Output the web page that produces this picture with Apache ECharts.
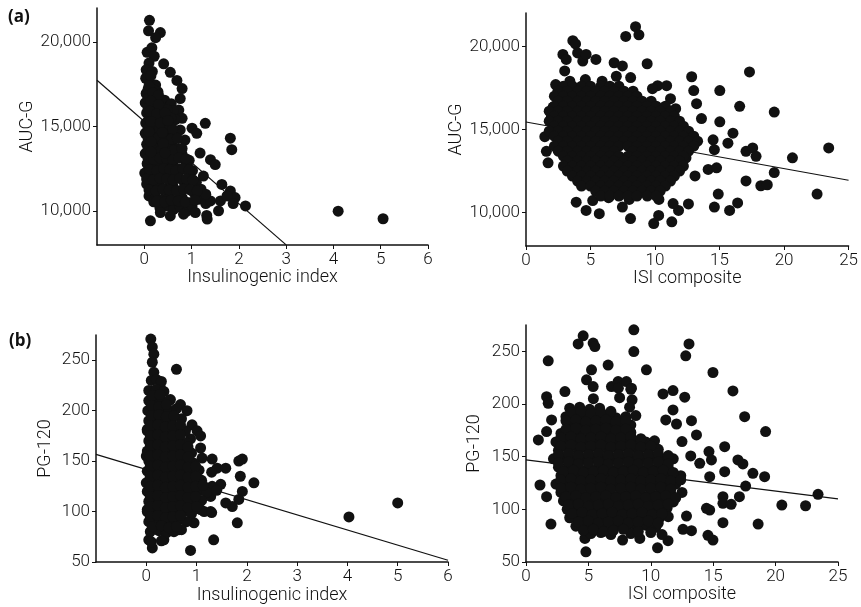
<!DOCTYPE html>
<html>
<head>
<meta charset="utf-8">
<script src="https://cdn.jsdelivr.net/npm/echarts@6/dist/echarts.min.js"></script>
<style>
html, body { margin: 0; padding: 0; background: #fff; }
#container { width: 861px; height: 607px; }
</style>
</head>
<body>
<div id="container"></div>
<script>
// panel (a) left: insulinogenic index vs AUC-G
var insAuc = [
  [0.11,21270],[0.09,20650],[0.34,20550],[0.24,20250],[0.06,19380],[0.16,19650],[0.21,19150],[0.1,18750],[0.04,18350],[0.17,18250],
  [0.41,18700],[0.55,18200],[0.69,17720],[0.8,17240],[0.76,16650],[0.73,15970],[0.8,15480],
  [0.03,17850],[0.12,17550],[0.24,17450],[0.04,16950],[0.15,16850],[0.29,17050],[0.43,16550],[0.02,16400],[0.13,16300],[0.27,16450],[0.4,16150],[0.57,16350],
  [0.05,15800],[0.18,15650],[0.33,15900],[0.49,15600],[0.61,15950],[0.03,15200],[0.15,15100],[0.28,15300],[0.42,15000],[0.55,15250],[0.66,15400],
  [0.02,14600],[0.12,14450],[0.24,14700],[0.37,14400],[0.51,14600],[0.63,14300],[0.76,14800],[0.05,13950],[0.18,13850],[0.31,14100],[0.45,13800],[0.58,14050],[0.72,13700],[0.86,14200],
  [0.02,13400],[0.14,13300],[0.27,13500],[0.4,13200],[0.53,13400],[0.66,13100],[0.8,13350],[0.95,13000],
  [0.06,12800],[0.2,12700],[0.34,12900],[0.47,12600],[0.6,12800],[0.74,12500],[0.88,12750],[1.02,12400],
  [0.01,12250],[0.12,12100],[0.26,11950],[0.4,12200],[0.54,11900],[0.68,12100],[0.82,11800],[0.96,12050],[1.1,11700],
  [0.05,11600],[0.18,11400],[0.32,11500],[0.46,11300],[0.6,11550],[0.75,11200],[0.9,11400],[1.05,11100],[1.2,11300],
  [0.1,10900],[0.24,10800],[0.38,10700],[0.52,10900],[0.66,10600],[0.8,10800],[0.95,10500],[1.15,10700],[1.3,10450],
  [0.2,10550],[0.33,10200],[0.48,10300],[0.62,10100],[0.76,10250],[0.9,10000],[1.01,10300],
  [0.34,9920],[0.55,9720],[0.83,9820],[1.08,9920],[1.33,9530],[0.13,9430],[1.32,9750],
  [1.29,15190],[1.01,14900],[1.11,14600],[1.82,14310],[1.85,13630],[1.18,13430],[1.4,13040],[1.5,12750],[1.25,12070],
  [1.64,11580],[1.82,11190],[1.92,10800],[2.14,10310],[1.61,10600],[1.57,10020],[1.75,10900],[1.4,10600],[1.3,11000],[1.88,10450],
  [4.1,10000],[5.05,9550],
  [0.08,17200],[0.2,17150],[0.08,16650],[0.21,16700],[0.35,16600],[0.08,16100],[0.22,16050],[0.34,16150],[0.48,16000],
  [0.1,15500],[0.24,15450],[0.4,15550],[0.56,15500],[0.08,14900],[0.2,14950],[0.32,14850],[0.48,14900],[0.6,14850],
  [0.08,14300],[0.2,14250],[0.3,14350],[0.44,14300],[0.57,14250],[0.7,14300],
  [0.08,13650],[0.22,13700],[0.35,13600],[0.5,13650],[0.62,13600],[0.8,13700],
  [0.08,13100],[0.2,13050],[0.33,13150],[0.47,13100],[0.6,13050],[0.73,13150],[0.88,13100],
  [0.12,12450],[0.27,12400],[0.41,12500],[0.54,12450],[0.67,12400],[0.82,12500],[0.95,12450],
  [0.05,11900],[0.19,11850],[0.33,11950],[0.47,11900],[0.61,11850],[0.75,11950],[0.89,11900],[1.03,11850],
  [0.1,11250],[0.25,11200],[0.39,11300],[0.53,11250],[0.68,11200],[0.83,11300],[0.97,11250],[1.12,11200],
  [0.27,10600],[0.43,10550],[0.57,10650],[0.72,10600],[0.87,10550],[1.07,10650],
  [0.14,18000],[0.1,17400],[0.18,17000],[0.3,16850],[0.14,16500],[0.3,16300],[0.12,15900],[0.26,15750],[0.44,15800],
  [0.14,15300],[0.34,15200],[0.5,15350],[0.1,14700],[0.38,14650],[0.14,14100],[0.4,14000],[0.14,13500],[0.44,13450]
];
// panel (a) right: ISI composite vs AUC-G, scattered points
var isiAuc = [
  [8.49,21180],[8.75,20690],[7.73,20590],[3.63,20340],[3.84,20140],[2.86,19510],[3.12,19210],[4.0,19600],[4.4,19110],[4.66,19510],
  [5.42,19210],[3.0,18520],[6.83,19010],[7.47,18820],[9.39,18950],[8.11,18120],[12.84,18170],[17.32,18460],[10.2,17630],[10.9,17630],
  [13.0,17340],[15.02,17340],[16.56,16390],[19.24,16050],[15.02,15460],[13.22,16550],[13.6,15660],[16.04,14780],[15.65,14180],[14.5,14380],
  [14.6,13790],[17.05,13690],[17.57,13890],[17.83,13390],[20.65,13300],[23.46,13890],[19.24,12410],[17.05,11910],[18.2,11620],[18.7,11680],
  [22.56,11120],[14.9,11120],[14.6,10340],[16.4,10590],[15.78,10140],[14.12,12600],[14.77,12700],[13.1,12210],[11.3,9450],[9.9,9350],
  [10.28,9840],[8.1,9650],[5.68,9940],[4.66,10140],[3.89,10630],[5.17,10730],[7.47,10340],[11.82,10140],[12.59,10530],[8.49,11220],
  [1.71,13000],[1.46,14570],[1.58,13690],[1.97,15760],[2.1,16350],[2.48,17340],[9.8,17450],[11.2,16850],[11.6,16250],
  [12.6,14650],[13.0,14050],[12.4,13300],[11.4,10550],[10.3,10800],[6.4,10900],[8.0,10800],[2.3,17700],[3.4,17900],[4.6,18000],[5.9,17900],[7.0,18200]
];
// panel (a) right: dense core, one row per AUC-G value followed by its ISI values
var isiAucCore = [
  [17600, 2.9,3.6,4.3,5.0,5.8,6.5,7.2],
  [17300, 2.5,3.2,4.0,4.7,5.4,6.1,6.8,7.6,8.3],
  [17000, 2.2,2.9,3.6,4.3,5.0,5.8,6.5,7.2,7.9,8.6],
  [16700, 2.5,3.2,4.0,4.7,5.4,6.1,6.8,7.6,8.3,9.0,9.7],
  [16400, 2.2,2.9,3.6,4.3,5.0,5.8,6.5,7.2,7.9,8.6,9.4,10.1,10.8],
  [16100, 1.8,2.5,3.2,4.0,4.7,5.4,6.1,6.8,7.6,8.3,9.0,9.7,10.4,11.2],
  [15800, 2.2,2.9,3.6,4.3,5.0,5.8,6.5,7.2,7.9,8.6,9.4,10.1,10.8,11.5],
  [15500, 1.8,2.5,3.2,4.0,4.7,5.4,6.1,6.8,7.6,8.3,9.0,9.7,10.4,11.2,11.9],
  [15200, 2.2,2.9,3.6,4.3,5.0,5.8,6.5,7.2,7.9,8.6,9.4,10.1,10.8,11.5,12.2],
  [14900, 1.8,2.5,3.2,4.0,4.7,5.4,6.1,6.8,7.6,8.3,9.0,9.7,10.4,11.2,11.9,12.6],
  [14600, 2.2,2.9,3.6,4.3,5.0,5.8,6.5,7.2,7.9,8.6,9.4,10.1,10.8,11.5,12.2,13.0],
  [14300, 2.5,3.2,4.0,4.7,5.4,6.1,6.8,7.6,8.3,9.0,9.7,10.4,11.2,11.9,12.6,13.3],
  [14000, 2.2,2.9,3.6,4.3,5.0,5.8,6.5,7.2,7.9,8.6,9.4,10.1,10.8,11.5,12.2,13.0],
  [13700, 2.5,3.2,4.0,4.7,5.4,6.1,6.8,8.3,9.0,9.7,10.4,11.2,11.9,12.6],
  [13400, 2.9,3.6,4.3,5.0,5.8,6.5,7.2,7.9,8.6,9.4,10.1,10.8,11.5,12.2],
  [13100, 3.2,4.0,4.7,5.4,6.1,6.8,7.6,8.3,9.0,9.7,10.4,11.2,11.9],
  [12800, 2.9,3.6,4.3,5.0,5.8,6.5,7.2,7.9,8.6,9.4,10.1,10.8,11.5,12.2],
  [12500, 3.2,4.0,4.7,5.4,6.1,6.8,7.6,8.3,9.0,9.7,10.4,11.2,11.9],
  [12200, 3.6,4.3,5.0,5.8,6.5,7.2,7.9,8.6,9.4,10.1,10.8,11.5],
  [11900, 4.0,4.7,5.4,6.1,6.8,7.6,8.3,9.0,9.7,10.4,11.2],
  [11600, 4.3,5.0,5.8,6.5,7.2,7.9,8.6,9.4,10.1,10.8],
  [11300, 5.4,6.1,6.8,7.6,8.3,9.0,9.7,10.4],
  [11000, 5.8,6.5,7.2,7.9,8.6,9.4,10.1]
];
// panel (b) left: insulinogenic index vs PG-120
var insPg = [
  [0.09,271],[0.12,263],[0.15,256],[0.12,248],[0.15,238],[0.6,241],[0.28,223],[0.48,211],[0.68,206],[0.81,200],
  [0.91,186],[1.01,180],[1.08,175],[0.88,172],[1.08,163],[1.11,153],[1.31,152],[1.41,143],[1.58,143],[1.84,150],
  [1.91,152],[1.87,135],[2.14,128.5],[1.91,120],[1.84,112],[1.71,105],[1.58,108.6],[1.48,127],[1.31,125],[1.28,115],
  [1.81,88.8],[1.34,72],[0.88,61.5],[0.05,72],[0.12,64],[0.35,72],[0.65,82],[0.95,88.8],[1.28,100],[1.08,102],
  [0.02,181.5],[0.0,155],[0.0,128.5],[0.02,102],[4.03,94.7],[5.0,108.6],
  [0.1,230],[0.2,231],[0.3,229],
  [0.05,220],[0.2,221],[0.35,219],
  [0.05,210],[0.18,211],[0.32,209],[0.45,210],
  [0.03,200],[0.15,201],[0.3,199],[0.45,200],[0.6,202],
  [0.05,190],[0.2,191],[0.35,189],[0.5,190],[0.7,192],
  [0.02,180],[0.15,181],[0.3,179],[0.45,180],[0.6,182],[0.78,180],
  [0.05,170],[0.2,171],[0.35,169],[0.5,170],[0.65,172],[0.8,168],
  [0.02,160],[0.15,161],[0.3,159],[0.45,160],[0.6,162],[0.75,160],[0.9,158],
  [0.05,150],[0.2,151],[0.35,149],[0.5,150],[0.65,152],[0.8,150],[0.95,148],
  [0.02,140],[0.15,141],[0.3,139],[0.45,140],[0.6,142],[0.75,140],[0.9,138],[1.05,141],[1.3,139],
  [0.05,130],[0.2,131],[0.35,129],[0.5,130],[0.65,132],[0.8,130],[0.95,128],[1.1,131],
  [0.02,120],[0.15,121],[0.3,119],[0.45,120],[0.6,122],[0.75,120],[0.9,118],[1.05,121],[1.2,119],[1.4,121],
  [0.05,110],[0.2,111],[0.35,109],[0.5,110],[0.65,112],[0.8,110],[0.95,108],[1.1,111],
  [0.02,100],[0.15,101],[0.3,99],[0.45,100],[0.6,102],[0.75,100],[0.9,98],[1.15,100],[1.3,99],
  [0.05,90],[0.2,91],[0.35,89],[0.5,90],[0.65,92],[0.8,90],
  [0.08,80],[0.25,81],[0.4,79],[0.55,80],[0.7,82],
  [0.1,70],[0.3,71],
  [0.12,215],[0.27,216],[0.1,205],[0.25,204],[0.4,206],[0.1,195],[0.25,196],[0.4,194],[0.55,195],
  [0.08,185],[0.23,186],[0.38,184],[0.53,185],[0.68,186],[0.08,175],[0.23,176],[0.38,174],[0.53,175],[0.68,176],
  [0.08,165],[0.23,166],[0.38,164],[0.53,165],[0.68,166],[0.83,164],[0.08,155],[0.23,156],[0.38,154],[0.53,155],[0.68,156],[0.83,154],
  [0.08,145],[0.23,146],[0.38,144],[0.53,145],[0.68,146],[0.83,144],[0.98,145],[0.08,135],[0.23,136],[0.38,134],[0.53,135],[0.68,136],[0.83,134],[0.98,135],
  [0.08,125],[0.23,126],[0.38,124],[0.53,125],[0.68,126],[0.83,124],[0.98,125],[1.13,126],
  [0.08,115],[0.23,116],[0.38,114],[0.53,115],[0.68,116],[0.83,114],[0.98,115],
  [0.08,105],[0.23,106],[0.38,104],[0.53,105],[0.68,106],[0.83,104],[1.0,105],
  [0.08,95],[0.23,96],[0.38,94],[0.53,95],[0.68,96],[0.12,85],[0.3,86],[0.45,84],[0.6,85]
];
// panel (b) right: ISI composite vs PG-120
var isiPg = [
  [8.64,270.4],[4.58,264.7],[4.18,257],[5.38,257.8],[5.52,254.5],[8.64,249.8],[13.06,257],[12.8,245.7],[1.78,241],[6.58,237],
  [9.65,232.4],[5.25,232.4],[14.98,229.9],[4.85,223],[5.38,216.5],[6.85,216.5],[7.38,221.3],[8.05,221.3],[8.45,215],[16.58,212.4],
  [10.98,209.6],[11.78,212.7],[12.72,206.5],[1.65,207],[1.78,200.7],[3.12,211.8],[2.05,184.9],[11.78,194.4],[11.2,184.9],[12.06,181],
  [13.26,184.2],[17.52,188],[19.2,173.8],[13.66,170.6],[0.99,165.9],[1.65,173.8],[15.92,159.5],[12.5,164.3],[13.2,150.7],[14.66,154.8],
  [14.86,146.9],[16.98,146.9],[17.38,143.1],[18.18,134.2],[19.12,131],[15.92,135.7],[13.92,143.7],[14.72,131],[17.6,122.1],[17.1,112],
  [23.4,114.3],[20.5,104],[22.4,103.4],[15.78,112],[15.78,105.7],[16.44,104.8],[14.46,101],[14.72,99.3],[18.6,86],[15.78,87.3],
  [12.86,93.6],[12.58,81],[13.26,79.7],[14.58,75.3],[14.98,70.8],[10.54,63.5],[11.38,70.2],[7.74,70.8],[9.12,72.4],[4.72,72.4],
  [4.8,59.7],[2.0,86],[1.12,123.1],[1.65,112],
  [7.4,215],[8.4,214],
  [5.4,205],[7.5,206],[8.5,204],
  [3.5,196],[4.3,197],[5.1,195],[5.9,196],[8.3,197],
  [3.2,188],[4.0,189],[4.8,187],[5.6,188],[6.4,189],[7.2,187],[8.0,188],[8.8,189],
  [3.6,180],[4.4,181],[5.2,179],[6.0,180],[6.8,181],[7.6,179],[8.4,180],
  [2.8,172],[3.6,173],[4.4,171],[5.2,172],[6.0,173],[6.8,171],[7.6,172],[8.4,173],
  [2.4,164],[3.2,165],[4.0,163],[4.8,164],[5.6,165],[6.4,163],[7.2,164],[8.0,165],[8.8,163],[9.6,164],[10.3,165],
  [2.6,156],[3.4,157],[4.2,155],[5.0,156],[5.8,157],[6.6,155],[7.4,156],[8.2,157],[9.0,155],[9.8,156],[10.6,157],
  [2.2,148],[3.0,149],[3.8,147],[4.6,148],[5.4,149],[6.2,147],[7.0,148],[7.8,149],[8.6,147],[9.4,148],[10.2,149],[11.0,147],[11.8,148],
  [2.6,140],[3.4,141],[4.2,139],[5.0,140],[5.8,141],[6.6,139],[7.4,140],[8.2,141],[9.0,139],[9.8,140],[10.6,141],[11.4,139],
  [2.8,132],[3.6,133],[4.4,131],[5.2,132],[6.0,133],[6.8,131],[7.6,132],[8.4,133],[9.2,131],[10.0,132],[10.8,133],[11.6,131],[12.4,132],
  [2.4,124],[3.2,125],[4.0,123],[4.8,124],[5.6,125],[6.4,123],[7.2,124],[8.0,125],[8.8,123],[9.6,124],[10.4,125],[11.2,123],[12.0,124],
  [2.8,116],[3.6,117],[4.4,115],[5.2,116],[6.0,117],[6.8,115],[7.6,116],[8.4,117],[9.2,115],[10.0,116],[10.8,117],[11.6,115],[12.5,116],
  [3.0,108],[3.8,109],[4.6,107],[5.4,108],[6.2,109],[7.0,107],[7.8,108],[8.6,109],[9.4,107],[10.2,108],[11.0,109],[11.8,107],
  [3.3,100],[4.1,101],[4.9,99],[5.7,100],[6.5,101],[7.3,99],[8.1,100],[8.9,101],[9.7,99],[10.5,100],[11.3,101],
  [3.5,92],[4.3,93],[5.1,91],[5.9,92],[6.7,93],[7.5,91],[8.3,92],[9.1,93],[9.9,91],[10.7,92],[11.4,93],
  [4.0,84],[4.8,85],[5.6,83],[6.4,84],[7.2,85],[8.0,83],[8.8,84],[9.6,85],[10.4,83],
  [5.2,77],[6.0,78],[6.8,76],[8.4,77],[10.0,78],[10.9,76],
  [3.6,192],[4.4,193],[5.2,191],[6.0,192],[6.8,193],
  [3.2,184],[4.0,185],[4.8,183],[5.6,184],[6.4,185],[7.2,183],[8.0,184],
  [3.2,176],[4.0,177],[4.8,175],[5.6,176],[6.4,177],[7.2,175],[8.0,176],
  [2.8,168],[3.6,169],[4.4,167],[5.2,168],[6.0,169],[6.8,167],[7.6,168],[8.4,169],[9.2,167],
  [2.8,160],[3.6,161],[4.4,159],[5.2,160],[6.0,161],[6.8,159],[7.6,160],[8.4,161],[9.2,159],[10.0,160],
  [2.6,152],[3.4,153],[4.2,151],[5.0,152],[5.8,153],[6.6,151],[7.4,152],[8.2,153],[9.0,151],[9.8,152],[10.6,153],[11.4,151],
  [2.6,144],[3.4,145],[4.2,143],[5.0,144],[5.8,145],[6.6,143],[7.4,144],[8.2,145],[9.0,143],[9.8,144],[10.6,145],[11.4,143],
  [3.0,136],[3.8,137],[4.6,135],[5.4,136],[6.2,137],[7.0,135],[7.8,136],[8.6,137],[9.4,135],[10.2,136],[11.0,137],[11.8,135],
  [2.8,128],[3.6,129],[4.4,127],[5.2,128],[6.0,129],[6.8,127],[7.6,128],[8.4,129],[9.2,127],[10.0,128],[10.8,129],[11.6,127],[12.4,128],
  [2.8,120],[3.6,121],[4.4,119],[5.2,120],[6.0,121],[6.8,119],[7.6,120],[8.4,121],[9.2,119],[10.0,120],[10.8,121],[11.6,119],
  [3.2,112],[4.0,113],[4.8,111],[5.6,112],[6.4,113],[7.2,111],[8.0,112],[8.8,113],[9.6,111],[10.4,112],[11.2,113],[12.0,111],
  [3.4,104],[4.2,105],[5.0,103],[5.8,104],[6.6,105],[7.4,103],[8.2,104],[9.0,105],[9.8,103],[10.6,104],[11.4,105],
  [3.7,96],[4.5,97],[5.3,95],[6.1,96],[6.9,97],[7.7,95],[8.5,96],[9.3,97],[10.1,95],[10.9,96],
  [4.2,88],[5.0,89],[5.8,87],[6.6,88],[7.4,89],[8.2,87],[9.0,88],[9.8,89],[10.6,87],
  [4.6,80],[5.4,81],[6.2,79],[7.0,80],[7.8,81],[9.0,79]
];

// regression lines (end points)
var fitInsAuc = [[-1,17730],[3,8010]];
var fitIsiAuc = [[0,15450],[25,11950]];
var fitInsPg = [[-1,156.7],[6,51.7]];
var fitIsiPg = [[0,147],[25,110]];

// tick labels
var insTicks = [0,1,2,3,4,5,6];
var aucTicks = [10000,15000,20000];
var pgTicks = [50,100,150,200,250];

// unfold the core rows into [isi, auc] pairs
isiAucCore.forEach(function (row) {
  for (var i = 1; i < row.length; i++) {
    isiAuc.push([row[i], row[0]]);
  }
});

var dom = document.getElementById("container");
var myChart = echarts.init(dom, null, {renderer: 'canvas'});

var nameFont = {fontFamily: 'Roboto', fontWeight: 300, fontSize: 18, color: '#111'};

function makeX(idx, min, max, ticks, name, gap) {
  var ax = {
    type: 'value', gridIndex: idx, min: min, max: max,
    name: name, nameLocation: 'middle', nameGap: gap,
    nameTextStyle: nameFont,
    axisLine: {onZero: false, lineStyle: {color: '#111', width: 1.5}},
    axisTick: {show: true, length: 4, lineStyle: {color: '#111'}},
    axisLabel: {margin: 6, fontFamily: 'Roboto', fontWeight: 300, fontSize: 17, color: '#111'},
    splitLine: {show: false}
  };
  if (ticks) {
    ax.axisTick.customValues = ticks;
    ax.axisLabel.customValues = ticks;
  } else {
    ax.interval = 5;
  }
  return ax;
}

function makeY(idx, min, max, ticks, name, gap) {
  return {
    type: 'value', gridIndex: idx, min: min, max: max,
    name: name, nameLocation: 'middle', nameGap: gap,
    nameTextStyle: nameFont,
    axisLine: {show: true, onZero: false, lineStyle: {color: '#111', width: 1.5}},
    axisTick: {show: true, length: 4, customValues: ticks, lineStyle: {color: '#111'}},
    axisLabel: {margin: 6, customValues: ticks, fontFamily: 'Roboto', fontWeight: 300, fontSize: 17, color: '#111',
      formatter: function (v) { return echarts.format.addCommas(v); }},
    splitLine: {show: false}
  };
}

function dots(idx, data) {
  return {type: 'scatter', xAxisIndex: idx, yAxisIndex: idx, data: data,
    symbol: 'circle', symbolSize: 11, itemStyle: {color: '#111', opacity: 1, borderWidth: 0}, silent: true, z: 3};
}

function fit(idx, data) {
  return {type: 'line', xAxisIndex: idx, yAxisIndex: idx, data: data, symbol: 'none',
    lineStyle: {color: '#111', width: 1.2}, silent: true, z: 2};
}

option = {
  animation: false,
  backgroundColor: '#fff',
  grid: [
    {left: 97, top: 8, width: 331, height: 237},
    {left: 526, top: 13, width: 326, height: 233},
    {left: 96, top: 335, width: 352, height: 227},
    {left: 526, top: 325, width: 312, height: 237}
  ],
  xAxis: [
    makeX(0, -1, 6, insTicks, 'Insulinogenic index', 18),
    makeX(1, 0, 25, null, 'ISI composite', 18),
    makeX(2, -1, 6, insTicks, 'Insulinogenic index', 24),
    makeX(3, 0, 25, null, 'ISI composite', 17)
  ],
  yAxis: [
    makeY(0, 8000, 22000, aucTicks, 'AUC-G', 60),
    makeY(1, 8000, 22000, aucTicks, 'AUC-G', 60),
    makeY(2, 50, 275, pgTicks, 'PG-120', 42),
    makeY(3, 50, 275, pgTicks, 'PG-120', 43)
  ],
  graphic: [
    {type: 'text', left: 8, top: 9, style: {text: '(a)', font: 'bold 17px "Open Sans"', fill: '#111'}},
    {type: 'text', left: 9, top: 333, style: {text: '(b)', font: 'bold 17px "Open Sans"', fill: '#111'}}
  ],
  series: [
    dots(0, insAuc), fit(0, fitInsAuc),
    dots(1, isiAuc), fit(1, fitIsiAuc),
    dots(2, insPg), fit(2, fitInsPg),
    dots(3, isiPg), fit(3, fitIsiPg)
  ]
};
myChart.setOption(option, true);
</script>
</body>
</html>
